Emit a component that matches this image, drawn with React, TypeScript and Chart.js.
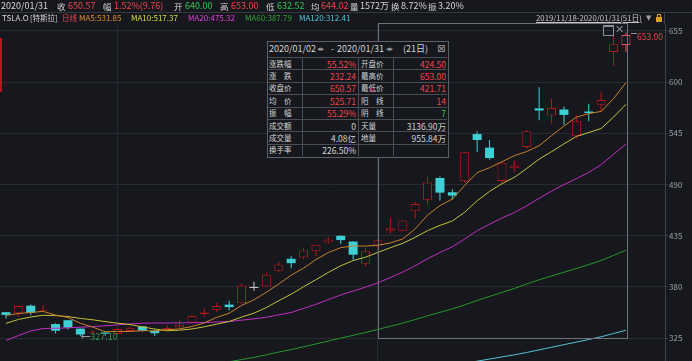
import React, { useEffect, useRef } from 'react';
import { Chart, registerables } from 'chart.js';
Chart.register(...registerables);

// ---------- data ----------
const dates = ['2019/11/18','2019/11/19','2019/11/20','2019/11/21','2019/11/22','2019/11/25','2019/11/26','2019/11/27','2019/11/29','2019/12/02','2019/12/03','2019/12/04','2019/12/05','2019/12/06','2019/12/09','2019/12/10','2019/12/11','2019/12/12','2019/12/13','2019/12/16','2019/12/17','2019/12/18','2019/12/19','2019/12/20','2019/12/23','2019/12/24','2019/12/26','2019/12/27','2019/12/30','2019/12/31','2020/01/02','2020/01/03','2020/01/06','2020/01/07','2020/01/08','2020/01/09','2020/01/10','2020/01/13','2020/01/14','2020/01/15','2020/01/16','2020/01/17','2020/01/21','2020/01/22','2020/01/23','2020/01/24','2020/01/27','2020/01/28','2020/01/29','2020/01/30','2020/01/31'];
const opens = [352.92,351.85,360.00,354.51,340.16,344.32,335.27,331.12,331.11,329.40,332.62,337.75,332.83,335.00,336.59,341.95,351.01,354.92,361.05,362.55,378.99,380.63,397.32,410.29,411.78,418.36,427.91,435.00,428.79,405.00,424.50,440.50,440.47,461.40,473.70,497.10,481.79,493.50,544.26,529.76,493.75,507.61,530.25,571.89,564.25,570.63,541.99,568.49,575.69,632.42,640.00];
const highs = [353.15,359.99,361.20,360.84,341.00,344.57,335.50,333.93,331.26,336.38,337.91,337.86,334.42,338.86,344.45,349.97,356.85,362.74,365.21,383.61,385.50,395.22,406.85,413.00,422.01,425.47,433.48,435.31,429.00,421.29,430.70,454.00,451.56,471.63,498.49,498.80,484.94,525.63,547.41,537.84,514.46,515.67,548.58,594.50,582.00,573.86,564.44,576.81,589.80,650.88,653.00];
const lows = [346.10,347.80,349.57,354.00,330.00,334.46,327.10,328.57,327.50,328.69,332.19,332.10,327.25,334.77,335.03,341.17,347.38,353.23,354.64,362.50,375.90,380.58,396.50,400.19,410.00,412.69,426.35,426.11,409.26,402.08,421.71,436.92,440.00,453.36,468.23,472.87,473.70,492.00,524.90,516.79,492.17,503.16,528.41,559.10,555.60,554.26,539.28,558.08,567.43,618.00,632.52];
const closes = [349.99,359.52,352.22,354.83,333.04,336.34,328.92,331.29,329.94,334.87,336.20,333.03,330.37,335.89,339.53,348.84,352.70,359.68,358.39,381.50,378.99,393.15,404.04,405.59,419.22,425.25,430.94,430.38,414.70,418.33,430.26,443.01,451.54,469.06,492.14,481.34,478.15,524.86,537.92,518.50,513.49,510.50,547.20,569.56,572.20,564.82,558.02,566.90,580.99,640.81,650.57];

const ma5 = [349.51,351.43,352.65,353.75,349.92,347.19,341.07,336.88,331.91,332.27,332.24,333.07,332.88,334.07,335.00,337.53,341.47,347.33,351.83,360.22,366.25,374.34,383.21,392.65,400.20,409.45,417.01,422.28,424.10,423.92,424.92,427.34,431.57,442.44,457.20,467.42,474.45,489.11,502.88,508.15,514.58,521.05,525.52,531.85,542.59,552.86,562.36,566.30,568.59,582.31,599.46];
const ma10 = [340.91,345.14,347.71,349.64,349.23,348.35,346.25,344.77,342.83,341.10,339.72,337.07,334.88,332.99,333.64,334.89,337.27,340.11,342.95,347.61,351.89,357.90,365.27,372.24,380.21,387.85,395.68,402.75,408.38,412.06,417.19,422.17,426.92,433.27,440.56,446.17,450.89,460.34,472.66,482.68,491.00,497.75,507.32,517.37,525.37,533.72,541.71,545.91,550.22,562.45,576.16];
const ma20 = [322.59,327.79,332.67,335.43,335.67,336.10,336.74,337.55,338.30,339.38,340.32,341.11,341.30,341.32,341.44,341.62,341.76,342.44,342.89,344.36,345.81,347.49,350.08,352.62,356.93,361.37,366.48,371.43,375.67,379.84,384.54,390.04,396.10,402.76,410.39,417.01,423.29,431.55,440.52,447.37,454.10,459.96,467.12,475.32,482.97,489.95,496.30,503.13,511.44,522.57,533.58];
const ma60 = [null,null,null,null,null,null,null,null,null,null,null,null,null,null,null,null,null,297.82,299.68,302.03,304.33,307.16,310.08,312.80,315.75,318.82,321.92,325.04,328.07,331.19,334.40,337.78,341.23,344.97,349.04,352.78,356.45,360.87,365.47,369.83,374.16,378.41,383.29,387.79,391.86,395.81,399.84,404.04,408.47,413.93,419.48];
const ma120 = [null,null,null,null,null,null,null,null,null,null,null,null,null,null,null,null,null,null,null,null,null,null,null,null,null,null,null,null,null,null,null,null,null,null,null,null,295.64,297.93,300.33,302.61,304.89,307.14,309.68,312.41,315.26,318.06,320.80,323.61,326.54,329.99,333.52];

const yTicks = [325, 380, 435, 490, 545, 600, 655];
const monthStarts = [9, 30];
const rangeStart = 30;
const rangeEnd = 50;

const statLabelsL = ['涨跌幅', '涨　跌', '收盘价', '均　价', '振　幅', '成交额', '成交量', '换手率'];
const statValuesL = ['55.52%', '232.24', '650.57', '525.71', '55.29%', '0', '4.08亿', '226.50%'];
const statLabelsR = ['开盘价', '最高价', '最低价', '阳　线', '阴　线', '天量', '地量', ''];
const statValuesR = ['424.50', '653.00', '421.71', '14', '7', '3136.90万', '955.84万', ''];

// ---------- style ----------
const BG = '#16181d';
const GRID = '#272a30';
const RED = '#b8161e';
const RED_HI = '#ee4f58';
const CYAN = '#3fd0d5';
const DOJI = '#cfcfcf';
const TXT = '#d4d4d4';
const TRED = '#f0434b';
const TGREEN = '#35c45a';
const FONT = '"Noto Sans CJK SC","Noto Sans",sans-serif';

const kind = (i: number) => (closes[i] > opens[i] ? 'up' : closes[i] < opens[i] ? 'down' : 'flat');
const candleColor = (i: number) =>
  i === dates.length - 1 ? RED_HI : kind(i) === 'up' ? RED : kind(i) === 'down' ? CYAN : DOJI;

const annotations = {
  id: 'annotations',
  afterDatasetsDraw(chart: any) {
    const { ctx, scales } = chart;
    const x = scales.x, y = scales.y;
    ctx.save();
    const l = Math.round(x.getPixelForValue(rangeStart)) + 0.5;
    const r = Math.round(x.getPixelForValue(rangeEnd)) + 1.5;
    ctx.strokeStyle = '#6e7178';
    ctx.lineWidth = 1;
    ctx.strokeRect(l, 23.5, r - l, 315);
    let maxI = 0, minI = 0;
    highs.forEach((v, i) => { if (v > highs[maxI]) maxI = i; });
    lows.forEach((v, i) => { if (v < lows[minI]) minI = i; });
    const hx = x.getPixelForValue(maxI), hy = Math.round(y.getPixelForValue(highs[maxI])) + 0.5;
    ctx.strokeStyle = '#8d9097';
    ctx.beginPath(); ctx.moveTo(hx + 5, hy); ctx.lineTo(hx + 11, hy); ctx.stroke();
    ctx.font = '8.5px ' + FONT;
    ctx.textBaseline = 'middle';
    ctx.fillStyle = TRED;
    ctx.fillText(highs[maxI].toFixed(2), hx + 11, hy + 3);
    const lx = x.getPixelForValue(minI), ly = Math.round(y.getPixelForValue(lows[minI])) + 0.5;
    ctx.strokeStyle = '#9a9a9a';
    ctx.beginPath(); ctx.moveTo(lx + 1, ly); ctx.lineTo(lx + 10, ly); ctx.moveTo(lx + 2, ly - 2); ctx.lineTo(lx + 2, ly + 2); ctx.stroke();
    ctx.fillStyle = '#2f9c4f';
    ctx.font = '9px ' + FONT;
    ctx.fillText(lows[minI].toFixed(2), lx + 10, ly);
    ctx.restore();
  },
};

function Txt(props: { x: number; y: number; c?: string; s?: number; children: any; u?: boolean; right?: boolean; f?: string }) {
  const st: any = {
    position: 'absolute',
    top: props.y - 7,
    lineHeight: '14px',
    fontSize: props.s || 9,
    color: props.c || TXT,
    whiteSpace: 'nowrap',
    textDecoration: props.u ? 'underline' : 'none',
    fontFamily: props.f || FONT,
  };
  if (props.right) st.right = 692 - props.x; else st.left = props.x;
  return <span style={st}>{props.children}</span>;
}

export default function App() {
  const ref = useRef<HTMLCanvasElement>(null);
  useEffect(() => {
    const idx = dates.map((_, i) => i);
    const line = (label: string, data: (number | null)[], color: string) => ({
      type: 'line' as const,
      label,
      data: idx.map((i) => ({ x: i, y: data[i] })),
      borderColor: color,
      borderWidth: 1,
      pointRadius: 0,
      tension: 0,
      order: 0,
    });
    const chart = new Chart(ref.current as HTMLCanvasElement, {
      type: 'line',
      data: {
        datasets: [
          line('MA5', ma5, '#c9812b'),
          line('MA10', ma10, '#c6c23a'),
          line('MA20', ma20, '#c22ec5'),
          line('MA60', ma60, '#22992a'),
          line('MA120', ma120, '#55c3d4'),
          {
            type: 'bar' as const,
            label: 'body',
            data: idx.map((i) => ({ x: i, y: [opens[i], closes[i]] })) as any,
            backgroundColor: idx.map((i) => (kind(i) === 'up' ? BG : candleColor(i))),
            borderColor: idx.map((i) => candleColor(i)),
            borderWidth: idx.map((i) => (kind(i) === 'up' ? 1 : 0)),
            borderSkipped: false,
            barThickness: 9,
            minBarLength: 1,
            grouped: false,
            inflateAmount: 0,
            order: 1,
          } as any,
          {
            type: 'bar' as const,
            label: 'wick',
            data: idx.map((i) => ({ x: i, y: [lows[i], highs[i]] })) as any,
            backgroundColor: idx.map((i) => candleColor(i)),
            borderWidth: 0,
            barThickness: 1,
            grouped: false,
            inflateAmount: 0,
            order: 2,
          } as any,
        ],
      },
      options: {
        responsive: false,
        animation: false,
        events: [],
        layout: { padding: { top: 24, left: 0, right: 0, bottom: 0 } },
        plugins: { legend: { display: false }, tooltip: { enabled: false } },
        scales: {
          x: {
            type: 'linear',
            min: -0.48,
            max: 53.15,
            offset: false,
            grid: { color: GRID, drawTicks: false, offset: false },
            border: { display: false },
            ticks: { display: false },
            afterBuildTicks: (s: any) => { s.ticks = monthStarts.map((v) => ({ value: v })); },
            afterFit: (s: any) => { s.height = 0; s.paddingLeft = 0; s.paddingRight = 0; },
          } as any,
          y: {
            type: 'linear',
            position: 'right',
            min: 300.5,
            max: 662.5,
            grid: { color: GRID, tickLength: 3, tickColor: '#3a3d44' },
            border: { display: true, color: '#3f424a' },
            ticks: { color: '#9ea2a8', font: { size: 8, family: FONT }, padding: 1, callback: (v: any) => String(v) },
            afterBuildTicks: (s: any) => { s.ticks = yTicks.map((v) => ({ value: v })); },
            afterFit: (s: any) => { s.width = 27; s.paddingTop = 0; s.paddingBottom = 0; },
          } as any,
        },
      },
      plugins: [annotations],
    });
    return () => chart.destroy();
  }, []);

  const rowY = (r: number) => 57 + r * 12.4;
  const colX = [267, 302, 358, 393, 448];
  const H1 = 9;
  const C1 = 8.5;

  return (
    <div style={{ position: 'fixed', left: 0, top: 0, width: 692, height: 361, background: BG, overflow: 'hidden', fontFamily: FONT }}>
      <canvas ref={ref} width={692} height={361} style={{ position: 'absolute', left: 0, top: 0, width: 692, height: 361 }} />
      {/* header row 1 */}
      <Txt x={1} y={6} s={H1}>2020/01/31</Txt>
      <Txt x={57} y={6} s={C1}>收</Txt><Txt x={68} y={6} s={H1} c={TRED}>650.57</Txt>
      <Txt x={103} y={6} s={C1}>幅</Txt><Txt x={114} y={6} s={H1} c={TRED}>1.52%(9.76)</Txt>
      <Txt x={174} y={6} s={C1}>开</Txt><Txt x={185} y={6} s={H1} c={TGREEN}>640.00</Txt>
      <Txt x={220} y={6} s={C1}>高</Txt><Txt x={231} y={6} s={H1} c={TRED}>653.00</Txt>
      <Txt x={266} y={6} s={C1}>低</Txt><Txt x={277} y={6} s={H1} c={TGREEN}>632.52</Txt>
      <Txt x={311} y={6} s={C1}>均</Txt><Txt x={321} y={6} s={H1} c={TRED}>644.02</Txt>
      <Txt x={350} y={6} s={C1}>量</Txt><Txt x={360} y={6} s={H1}>1572万</Txt>
      <Txt x={391} y={6} s={C1}>换</Txt><Txt x={401} y={6} s={H1}>8.72%</Txt>
      <Txt x={428} y={6} s={C1}>振</Txt><Txt x={438} y={6} s={H1}>3.20%</Txt>
      <div style={{ position: 'absolute', left: 0, top: 12, width: 692, height: 1, background: '#34373e' }} />
      {/* header row 2 */}
      <Txt x={2} y={18} s={8}>TSLA.O</Txt>
      <Txt x={30} y={18} s={7.5}>[特斯拉]</Txt>
      <Txt x={62} y={18} s={7.5} c={TRED}>日线</Txt>
      <Txt x={79} y={18} s={8} c="#e08a2c">MA5:531.85</Txt>
      <Txt x={131} y={18} s={8} c="#dede3c">MA10:517.37</Txt>
      <Txt x={188} y={18} s={8} c="#e03ee0">MA20:475.32</Txt>
      <Txt x={245} y={18} s={8} c="#2fa535">MA60:387.79</Txt>
      <Txt x={299} y={18} s={8} c="#4cc8d6">MA120:312.41</Txt>
      <Txt x={536} y={18} s={7.8} c="#c4c4c4" u>2019/11/18-2020/01/31(51日)</Txt>
      <Txt x={646} y={18} s={7} c="#a0a0a0" f="DejaVu Sans">▼</Txt>
      <div style={{ position: 'absolute', left: 656, top: 17, width: 6, height: 5, background: '#d9a21e' }} />
      <div style={{ position: 'absolute', left: 657, top: 14, width: 2, height: 3, border: '1px solid #d9a21e', borderBottom: 'none' }} />
      <div style={{ position: 'absolute', left: 664, top: 12, width: 1, height: 12, background: '#3f424a' }} />
      {/* left red marker */}
      <div style={{ position: 'absolute', left: 0, top: 38, width: 2, height: 54, background: '#b8161e' }} />
      {/* selection icons */}
      <div style={{ position: 'absolute', left: 603, top: 25, width: 9, height: 8, border: '1px solid #8a8d93', borderTop: '2px solid #8a8d93' }} />
      <Txt x={615} y={30} s={11} c="#8a8d93" f="DejaVu Sans">✕</Txt>
      {/* stats box */}
      <div style={{ position: 'absolute', left: 267, top: 41, width: 180, height: 115, border: '1px solid #5d6067', background: BG }} />
      <Txt x={269} y={49} s={9}>2020/01/02</Txt>
      <Txt x={317} y={49} s={7} c="#9a9a9a" f="DejaVu Sans">◂▸</Txt>
      <Txt x={331} y={49} s={9}>-</Txt>
      <Txt x={337} y={49} s={9}>2020/01/31</Txt>
      <Txt x={386} y={49} s={7} c="#9a9a9a" f="DejaVu Sans">◂▸</Txt>
      <Txt x={403} y={49} s={9}>(21日)</Txt>
      <Txt x={437} y={49} s={10} c="#9a9a9a" f="DejaVu Sans">⊠</Txt>
      {statLabelsL.map((_, r) => (
        <div key={'h' + r} style={{ position: 'absolute', left: 268, top: Math.round(rowY(r)), width: 179, height: 1, background: '#4a4d54' }} />
      ))}
      {[1, 2, 3].map((c) => (
        <div key={'v' + c} style={{ position: 'absolute', left: colX[c], top: 57, width: 1, height: 99, background: '#4a4d54' }} />
      ))}
      {statLabelsL.map((t, r) => (
        <React.Fragment key={'r' + r}>
          <Txt x={269} y={rowY(r) + 6.5} s={7.5}>{t}</Txt>
          <Txt x={356} y={rowY(r) + 6.5} s={8.5} right c={r < 5 ? TRED : TXT}>{statValuesL[r]}</Txt>
          <Txt x={361} y={rowY(r) + 6.5} s={7.5}>{statLabelsR[r]}</Txt>
          <Txt x={446} y={rowY(r) + 6.5} s={8.5} right c={r < 4 ? TRED : r === 4 ? TGREEN : TXT}>{statValuesR[r]}</Txt>
        </React.Fragment>
      ))}
    </div>
  );
}
